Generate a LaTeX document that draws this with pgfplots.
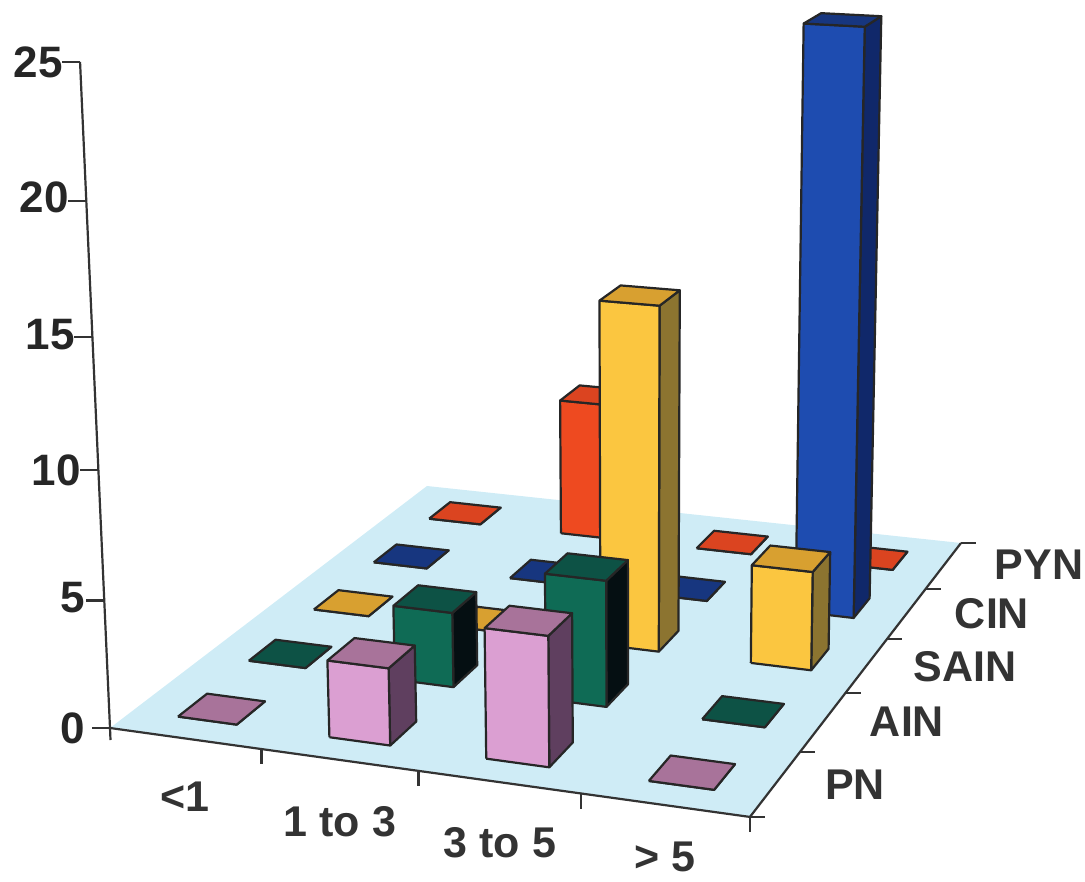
\documentclass[border=0pt]{standalone}
\usepackage{pgfplots}
\pgfplotsset{compat=1.18}
\usepackage{fontspec}
\setmainfont{Liberation Sans}

% Perspective camera: s along the duration axis, t along the diagnosis axis, h = count
\newcommand{\project}[3]{%
  \pgfmathsetmacro{\den}{-0.06976*(#1)+0.22607*(#2)+1-0.00217*(#3)}%
  \pgfmathsetmacro{\PX}{(587.68*(#1)+413.53*(#2)+110-0.00217*633*(#3))/\den}%
  \pgfmathsetmacro{\PY}{(32.01*(#1)-132.13*(#2)+728-0.00217*12360*(#3))/\den}%
}
\newcommand{\corner}[4]{\project{#1}{#2}{#3}\expandafter\let\csname X#4\endcsname\PX\expandafter\let\csname Y#4\endcsname\PY}

\definecolor{floorc}{HTML}{CFECF6}
\definecolor{axisc}{HTML}{333333}
\definecolor{pinkF}{HTML}{DB9FD2}\definecolor{pinkT}{HTML}{A8739A}\definecolor{pinkS}{HTML}{5F3F5F}
\definecolor{greenF}{HTML}{0F6B55}\definecolor{greenT}{HTML}{0D5245}\definecolor{greenS}{HTML}{050F12}
\definecolor{yellF}{HTML}{FBC640}\definecolor{yellT}{HTML}{D8A030}\definecolor{yellS}{HTML}{8C7430}
\definecolor{blueF}{HTML}{1E4CB0}\definecolor{blueT}{HTML}{17367F}\definecolor{blueS}{HTML}{10286A}
\definecolor{redF}{HTML}{EE4A20}\definecolor{redT}{HTML}{DB4420}\definecolor{redS}{HTML}{8A2A14}

\tikzset{
  barface/.style={draw=black!85, line width=2.2pt, line join=round},
  axisline/.style={draw=axisc, line width=2.2pt},
  ticklab/.style={font=\fontsize{44}{44}\selectfont\bfseries, text=black!85, inner sep=0pt},
  catlab/.style={font=\fontsize{43}{43}\selectfont\bfseries, text=axisc, inner sep=0pt},
}

% One bar: duration index, diagnosis index, count, colour prefix
\newcommand{\cellbar}[4]{%
  \pgfmathsetmacro{\sa}{(#1+0.5)/4-0.049}\pgfmathsetmacro{\sb}{(#1+0.5)/4+0.049}%
  \pgfmathsetmacro{\ta}{(#2+0.5)/5-0.04}\pgfmathsetmacro{\tb}{(#2+0.5)/5+0.04}%
  \corner{\sa}{\ta}{0}{a}\corner{\sb}{\ta}{0}{b}\corner{\sb}{\tb}{0}{c}%
  \corner{\sa}{\ta}{#3}{d}\corner{\sb}{\ta}{#3}{e}\corner{\sb}{\tb}{#3}{f}\corner{\sa}{\tb}{#3}{g}%
  \addplot[barface,fill=#4S] coordinates {(\Xb,\Yb)(\Xc,\Yc)(\Xf,\Yf)(\Xe,\Ye)(\Xb,\Yb)};
  \addplot[barface,fill=#4F] coordinates {(\Xa,\Ya)(\Xb,\Yb)(\Xe,\Ye)(\Xd,\Yd)(\Xa,\Ya)};
  \addplot[barface,fill=#4T] coordinates {(\Xd,\Yd)(\Xe,\Ye)(\Xf,\Yf)(\Xg,\Yg)(\Xd,\Yd)};
}

\begin{document}
\begin{tikzpicture}
\begin{axis}[
  hide axis, clip=false, scale only axis,
  width=1085pt, height=882pt,
  xmin=0, xmax=1085, ymin=0, ymax=882, y dir=reverse,
]
\path (axis cs:0,0) rectangle (axis cs:1085,882);

% Floor of the plot
\corner{0}{0}{0}{a}\corner{1}{0}{0}{b}\corner{1}{1}{0}{c}\corner{0}{1}{0}{d}
\addplot[fill=floorc, draw=none] coordinates {(\Xa,\Ya)(\Xb,\Yb)(\Xc,\Yc)(\Xd,\Yd)(\Xa,\Ya)};

% Axis lines
\addplot[axisline] coordinates {(\Xa,\Ya)(\Xb,\Yb)(\Xc,\Yc)};
\corner{0}{0}{25}{e}
\addplot[axisline] coordinates {(\Xe,\Ye)(\Xa,\Ya)};
\pgfmathsetmacro{\Xz}{\Xa+0.5}\pgfmathsetmacro{\Yz}{\Ya+12}
\addplot[axisline] coordinates {(\Xa,\Ya)(\Xz,\Yz)};

% Count ticks
\pgfplotsinvokeforeach{0,5,10,15,20,25}{
  \corner{0}{0}{#1}{a}\pgfmathsetmacro{\Xq}{\Xa-18}
  \addplot[axisline] coordinates {(\Xq,\Ya)(\Xa,\Ya)};
}
% Duration ticks
\pgfplotsinvokeforeach{0.25,0.5,0.75,1}{
  \corner{#1}{0}{0}{a}\pgfmathsetmacro{\Yq}{\Ya+15}
  \addplot[axisline] coordinates {(\Xa,\Ya)(\Xa,\Yq)};
}
% Diagnosis ticks
\pgfplotsinvokeforeach{0,0.2,0.4,0.6,0.8,1}{
  \corner{1}{#1}{0}{a}\pgfmathsetmacro{\Xq}{\Xa+15}
  \addplot[axisline] coordinates {(\Xa,\Ya)(\Xq,\Ya)};
}

% PYN
\cellbar{0}{4}{0}{red}\cellbar{1}{4}{6}{red}\cellbar{2}{4}{0}{red}\cellbar{3}{4}{0}{red}
% CIN
\cellbar{0}{3}{0}{blue}\cellbar{1}{3}{0}{blue}\cellbar{2}{3}{0}{blue}\cellbar{3}{3}{24}{blue}
% SAIN
\cellbar{0}{2}{0}{yell}\cellbar{1}{2}{0}{yell}\cellbar{2}{2}{14}{yell}\cellbar{3}{2}{4}{yell}
% AIN
\cellbar{0}{1}{0}{green}\cellbar{1}{1}{3}{green}\cellbar{2}{1}{5}{green}\cellbar{3}{1}{0}{green}
% PN
\cellbar{0}{0}{0}{pink}\cellbar{1}{0}{3}{pink}\cellbar{2}{0}{5}{pink}\cellbar{3}{0}{0}{pink}

% Count labels
\node[ticklab,anchor=east] at (axis cs:63,62) {25};
\node[ticklab,anchor=east] at (axis cs:69,197) {20};
\node[ticklab,anchor=east] at (axis cs:75,335) {15};
\node[ticklab,anchor=east] at (axis cs:81,470) {10};
\node[ticklab,anchor=east] at (axis cs:85,598) {5};
\node[ticklab,anchor=east] at (axis cs:85,728) {0};
% Duration labels
\node[catlab] at (axis cs:185,797) {<1};
\node[catlab] at (axis cs:340,822) {1 to 3};
\node[catlab] at (axis cs:500,843) {3 to 5};
\node[catlab] at (axis cs:665,857) {> 5};
% Diagnosis labels
\node[catlab] at (axis cs:855,785) {PN};
\node[catlab] at (axis cs:907,722) {AIN};
\node[catlab] at (axis cs:965,667) {SAIN};
\node[catlab] at (axis cs:992,614) {CIN};
\node[catlab] at (axis cs:1039,565) {PYN};
\end{axis}
\end{tikzpicture}
\end{document}
